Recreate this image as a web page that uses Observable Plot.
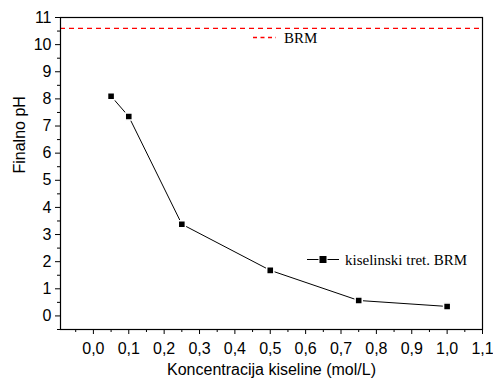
<!DOCTYPE html>
<html><head><meta charset="utf-8">
<script src="https://cdn.jsdelivr.net/npm/d3@7"></script>
<script src="https://cdn.jsdelivr.net/npm/@observablehq/plot@0.6"></script>
<style>body{margin:0;background:#fff}#c{position:relative;width:493px;height:381px}</style>
</head><body><div id="c"></div>
<script>
const concentrations = [0.05, 0.1, 0.25, 0.5, 0.75, 1.0];
const finalPH = [8.1, 7.35, 3.38, 1.68, 0.57, 0.35];
const brmPH = 10.6;
const xTicks = [0, 0.1, 0.2, 0.3, 0.4, 0.5, 0.6, 0.7, 0.8, 0.9, 1.0, 1.1];
const xMinor = [-0.05, 0.05, 0.15, 0.25, 0.35, 0.45, 0.55, 0.65, 0.75, 0.85, 0.95, 1.05];
const yTicks = [0,1,2,3,4,5,6,7,8,9,10,11];
const yMinor = [-0.5,0.5,1.5,2.5,3.5,4.5,5.5,6.5,7.5,8.5,9.5,10.5];
const seriesName = "kiselinski tret. BRM";
const refName = "BRM";

const data = concentrations.map((c,i)=>({c, ph: finalPH[i]}));
const fmt = d => d.toFixed(1).replace(".", ",");
const sans = "Liberation Sans, Arial, sans-serif";

const plot = Plot.plot({
  width: 493, height: 381,
  marginLeft: 60, marginTop: 17, marginRight: 11, marginBottom: 52,
  style: {fontFamily: sans, fontSize: "15px", color: "#000", background: "#fff"},
  x: {domain: [-0.093, 1.1]},
  y: {domain: [-0.5, 11]},
  marks: [
    Plot.axisX(xTicks, {tickSize: 5, tickPadding: 8, tickFormat: fmt, fontSize: 16, label: null}),
    Plot.axisX(xMinor, {tickSize: 3, text: null, label: null}),
    Plot.axisY(yTicks, {tickSize: 5, tickPadding: 4, fontSize: 16, label: null}),
    Plot.axisY(yMinor, {tickSize: 3, text: null, label: null}),
    Plot.ruleY([brmPH], {stroke: "#ff0000", strokeDasharray: "5,4", strokeWidth: 1.2}),
    Plot.line(data, {x: "c", y: "ph", stroke: "#000", strokeWidth: 1}),
    Plot.dot(data, {x: "c", y: "ph", symbol: "square", r: 4, fill: "#000", stroke: "#fff", strokeWidth: 1.5}),
    Plot.frame({stroke: "#000", strokeWidth: 1.2}),
    Plot.text(["Koncentracija kiseline (mol/L)"], {frameAnchor: "bottom", dy: 45, fontSize: 16, fontFamily: sans}),
    Plot.text(["Finalno pH"], {frameAnchor: "left", dx: -41, rotate: -90, fontSize: 16, fontFamily: sans})
  ]
});
document.getElementById("c").appendChild(plot);

const svg = d3.select(plot);
svg.selectAll('g[aria-label$="tick label"]').attr("font-size", 16).selectAll("text").attr("font-size", 16);

// legends
const g = svg.append("g").attr("font-family", "Liberation Serif, Times New Roman, serif")
  .attr("font-size", 15).attr("text-anchor", "start");
g.append("line").attr("x1", 253).attr("x2", 276).attr("y1", 37.5).attr("y2", 37.5)
  .attr("stroke", "#ff0000").attr("stroke-width", 1.3).attr("stroke-dasharray", "4,3.5");
g.append("text").attr("x", 284).attr("y", 42.5).attr("fill", "#000").text(refName);
g.append("line").attr("x1", 307).attr("x2", 339).attr("y1", 259.5).attr("y2", 259.5).attr("stroke", "#000");
g.append("rect").attr("x", 319).attr("y", 255.5).attr("width", 8).attr("height", 8).attr("fill", "#000").attr("stroke", "#fff");
g.append("text").attr("x", 345).attr("y", 264.5).attr("fill", "#000").text(seriesName);
</script></body></html>
